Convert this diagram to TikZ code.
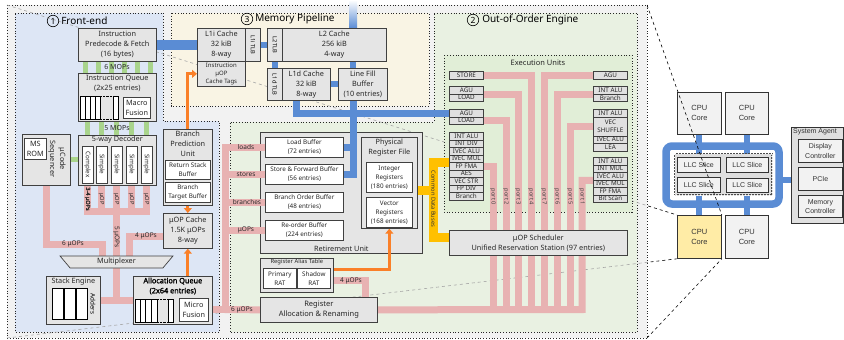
\documentclass[tikz,border=0pt]{standalone}
\usepackage{fontspec}
\setmainfont{Noto Sans}
\newfontfamily\arialfont{Liberation Sans}
\newfontfamily\headbold{Noto Sans}[FakeBold=1.8]
\usetikzlibrary{positioning,arrows.meta,shapes.geometric}

% colours
\definecolor{outerbg}{RGB}{242,242,242}
\definecolor{frontbg}{RGB}{221,230,245}
\definecolor{membg}{RGB}{249,244,228}
\definecolor{ooobg}{RGB}{233,241,226}
\definecolor{execbg}{RGB}{225,238,215}
\definecolor{uoppink}{RGB}{232,178,178}
\definecolor{mopgreen}{RGB}{169,212,140}
\definecolor{memblue}{RGB}{90,140,212}
\definecolor{ctlorange}{RGB}{250,128,40}
\definecolor{cdbyellow}{RGB}{255,192,0}
\definecolor{coreyellow}{RGB}{255,236,166}

\pgfdeclarelayer{regions}
\pgfdeclarelayer{groups}
\pgfdeclarelayer{wires}
\pgfsetlayers{regions,groups,wires,main}

\tikzset{
  nw/.style={anchor=north west},
  wh/.style 2 args={minimum width=#1, minimum height=#2},
  box/.style={draw=black!75, fill=black!10, line width=0.7pt, align=center,
    inner sep=0.5pt, text=black!85, font=\fontsize{7.3}{10}\selectfont},
  wbox/.style={box, fill=white},
  small/.style={font=\fontsize{6.3}{9}\selectfont},
  tiny/.style={font=\fontsize{5.7}{6}\selectfont},
  head/.style={align=center, inner sep=1pt, text=black!85, font=\fontsize{7.3}{10}\selectfont},
  unit/.style={box, line width=0.8pt, fill=black!12, inner sep=0pt, wh={34}{7.5},
    font=\fontsize{6.3}{6}\selectfont},
  rot/.style={rotate=-90},
  region/.style={draw=black!85, dotted, line width=0.8pt},
  lbl/.style={inner sep=0.5pt, font=\fontsize{6.5}{7}\selectfont, text=black!85},
  rtitle/.style={inner sep=1pt, font=\fontsize{10}{12}\selectfont},
  circnum/.style={circle, draw, line width=0.6pt, inner sep=0pt, minimum size=11.5,
    font=\fontsize{8.5}{8.5}\selectfont},
  uop/.style={draw=uoppink, line width=7pt, line cap=rect},
  mop/.style={draw=mopgreen, line width=5pt},
  mem/.style={draw=memblue, line width=7pt, line cap=rect},
  ctl/.style={draw=ctlorange, line width=3pt, -{Triangle[length=5pt, width=8pt]}},
  cdb/.style={draw=cdbyellow, line width=9pt, line cap=rect},
  cpu/.style={draw=black!80, fill=black!5, line width=0.8pt, align=center,
    font=\arialfont\fontsize{7.5}{10}\selectfont, text=black!80},
  zoomline/.style={dashed, line width=0.6pt},
}

\begin{document}
\begin{tikzpicture}[x=1pt, y=-1pt]
\useasboundingbox (0,0) rectangle (844,340);
\coordinate (otl) at (7,5);
\coordinate (otr) at (647,5);
\coordinate (obl) at (7,338);
\coordinate (obr) at (647,338);

% front-end
\node[box, nw, wh={78}{33}] (fetch) at (78,28) {Instruction\\Predecode \& Fetch\\(16 bytes)};
\node[box, nw, wh={78}{48}] (iq) at (78,73) {};
\node[head, below=0.5pt of iq.north] {Instruction Queue\\(2x25 entries)};
\draw[fill=white, line width=0.7pt] (80,96) rectangle (100,119);
\foreach \x in {85,90,95} \draw[line width=0.7pt] (\x,96) -- (\x,119);
\draw[densely dotted] (100,96) -- (113,96) (100,119) -- (113,119);
\draw[fill=white, line width=0.7pt] (113,96) rectangle (118,119);
\node[wbox, nw, wh={27}{21}] (macro) at (123,97) {Macro\\Fusion};

\node[box, nw, wh={78}{50}] (dec) at (78,135) {};
\node[head, below=0pt of dec.north] {5-way Decoder};
\node[wbox, rot, wh={37}{11}, small] (dc0) at (87.5,164.5) {Complex};
\foreach \i/\x in {1/101.5,2/116.5,3/131.5,4/146.5}
  \node[wbox, rot, wh={37}{11}, small] (dc\i) at (\x,164.5) {Simple};
\node[box, nw, wh={48}{51}] (seq) at (22,134) {};
\node[wbox, nw, wh={22}{21}] (msrom) at (24,138) {MS\\ROM};
\node[head, rot] at (57,159) {μCode\\Sequencer};

\node[box, nw, wh={49}{76}] (bpu) at (163,129) {};
\node[head, below=0.5pt of bpu.north] {Branch\\Prediction\\Unit};
\node[wbox, nw, wh={45}{19}, small] (rsb) at (165,160) {Return Stack\\Buffer};
\node[wbox, nw, wh={45}{20}, small] (btb) at (165,182) {Branch\\Target Buffer};
\node[box, nw, wh={49}{35}] (uopc) at (163,213) {μOP Cache\\1.5K μOPs\\8-way};

\node[box, trapezium, trapezium angle=60, shape border rotate=180, trapezium stretches=true,
  wh={113}{12}, inner sep=0pt] (mux) at (116.5,262) {Multiplexer};

\node[box, nw, wh={54}{48}] (stk) at (46,276) {};
\node[head, below=0.5pt of stk.north] {Stack Engine};
\foreach \x in {52,64,76} \draw[fill=white, line width=0.7pt] (\x,288) rectangle ++(11,31);
\node[rot, small] at (93,304) {Adders};

\node[box, nw, wh={79}{48}] (aq) at (133,276) {};
\node[head, below=0.5pt of aq.north, text=black, font=\headbold\fontsize{7.3}{10}\selectfont] {Allocation Queue\\(2x64 entries)};
\draw[fill=white, line width=0.7pt] (135,299) rectangle (157,322);
\foreach \x in {140,145.5,151} \draw[line width=0.7pt] (\x,299) -- (\x,322);
\draw[densely dotted] (157,299) -- (168,299) (157,322) -- (168,322);
\draw[fill=white, line width=0.7pt] (168,299) rectangle (173,322);
\node[wbox, nw, wh={29}{23}] (mfus) at (179,298) {Micro\\Fusion};

% memory pipeline
\node[box, nw, wh={48}{33}] (l1i) at (197,28) {L1i Cache\\32 kiB\\8-way};
\node[box, nw, wh={15}{33}] (itlb) at (245,28) {};
\node[rot, tiny] at (itlb) {L1i TLB};
\node[box, nw, wh={48}{25}, font=\fontsize{6}{8}\selectfont] (tags) at (197,61) {Instruction\\μOP\\Cache Tags};
\node[box, nw, wh={15}{33}] (l2tlb) at (267,28) {};
\node[rot, tiny] at (l2tlb) {L2 TLB};
\node[box, nw, wh={104}{33}] (l2) at (282,28) {L2 Cache\\256 kiB\\4-way};
\node[box, nw, wh={15}{32}] (dtlb) at (267,68) {};
\node[rot, tiny] at (dtlb) {L1d TLB};
\node[box, nw, wh={48}{32}] (l1d) at (282,68) {L1d Cache\\32 kiB\\8-way};
\node[box, nw, wh={49}{32}] (lfb) at (338,68) {Line Fill\\Buffer\\(10 entries)};

% out-of-order engine
\node[font=\fontsize{7.5}{9}\selectfont, text=black!85] at (538,63) {Execution Units};
\node[unit, nw] (p4u0) at (449,71) {STORE};
\foreach \y/\p in {86/3,109/2} {
  \node[unit, nw] (p\p u0) at (449,\y) {AGU};
  \node[unit, nw] (p\p u1) at (449,\y+7.5) {LOAD};
}
\foreach \nm [count=\i from 0] in {INT ALU,INT DIV,IVEC ALU,IVEC MUL,FP FMA,AES,VEC STR,FP DIV,Branch}
  \node[unit, nw] (p0u\i) at (449,132+7.5*\i) {\nm};
\node[unit, nw] (p7u0) at (593,71) {AGU};
\node[unit, nw] (p6u0) at (593,86) {INT ALU};
\node[unit, nw] (p6u1) at (593,93.5) {Branch};
\node[unit, nw] (p5u0) at (593,109) {INT ALU};
\node[unit, nw, minimum height=19, font=\fontsize{6.3}{8}\selectfont] (p5u1) at (593,116.5) {VEC\\SHUFFLE};
\node[unit, nw] (p5u2) at (593,135.5) {IVEC ALU};
\node[unit, nw] (p5u3) at (593,143) {LEA};
\foreach \nm [count=\i from 0] in {INT ALU,INT MUL,IVEC ALU,IVEC MUL,FP FMA,Bit Scan}
  \node[unit, nw] (p1u\i) at (593,157+7.5*\i) {\nm};
\node[box, nw, wh={178}{25}] (sched) at (449,230) {μOP Scheduler\\Unified Reservation Station (97 entries)};

\begin{pgfonlayer}{groups}
\node[box, nw, wh={162}{121}] (ret) at (260,132) {};
\end{pgfonlayer}
\node[head, above=1pt of ret.south] {Retirement Unit};
\node[wbox, nw, wh={78}{20}, small] (ldbuf) at (265,137) {Load Buffer\\(72 entries)};
\node[wbox, nw, wh={78}{20}, small] (stbuf) at (265,164) {Store \& Forward Buffer\\(56 entries)};
\node[wbox, nw, wh={78}{20}, small] (bobuf) at (265,192) {Branch Order Buffer\\(48 entries)};
\node[wbox, nw, wh={78}{20}, small] (robuf) at (265,220) {Re-order Buffer\\(224 entries)};
\node[box, nw, wh={56}{91}] (prf) at (361,137) {};
\node[head, below=1pt of prf.north] {Physical\\Register File};
\node[wbox, nw, wh={46}{30}, small] (intreg) at (366,162) {Integer\\Registers\\(180 entries)};
\node[wbox, nw, wh={46}{30}, small] (vecreg) at (366,197) {Vector\\Registers\\(168 entries)};

\node[box, nw, wh={73}{34}] (rat) at (260,258) {};
\node[head, below=0pt of rat.north, font=\fontsize{5.8}{7}\selectfont] {Register Alias Table};
\node[wbox, nw, wh={33}{20}, small] (prat) at (263,268) {Primary\\RAT};
\node[wbox, nw, wh={33}{20}, small] (srat) at (297,268) {Shadow\\RAT};
\node[box, nw, wh={117}{25}, font=\fontsize{7.5}{10}\selectfont] (ren) at (260,297) {Register\\Allocation \& Renaming};

% processor
\node[cpu, nw, wh={44}{42}] (core1) at (677,92) {CPU\\Core};
\node[cpu, nw, wh={43}{42}] (core2) at (725,92) {CPU\\Core};
\node[cpu, nw, wh={44}{43}, fill=coreyellow] (core3) at (677,215) {CPU\\Core};
\node[cpu, nw, wh={43}{43}] (core4) at (725,215) {CPU\\Core};
\node[nw, wh={97}{41}, fill=black!13, draw=black!70, densely dotted, double=black!13,
  double distance=1.2pt, line width=0.5pt] (llc) at (675,154) {};
\node[cpu, nw, wh={43}{15}, font=\arialfont\fontsize{7}{8}\selectfont] (llc1) at (677,157) {LLC Slice};
\node[cpu, nw, wh={42}{15}, font=\arialfont\fontsize{7}{8}\selectfont] (llc2) at (726,157) {LLC Slice};
\node[cpu, nw, wh={43}{15}, font=\arialfont\fontsize{7}{8}\selectfont] (llc3) at (677,177) {LLC Slice};
\node[cpu, nw, wh={42}{14}, font=\arialfont\fontsize{7}{8}\selectfont] (llc4) at (726,178) {LLC Slice};
\node[cpu, nw, wh={52}{96}, fill=black!12] (sa) at (791,127) {};
\node[below right=1pt and 2pt of sa.north west, inner sep=0pt, text=black!80,
  font=\arialfont\fontsize{7}{8}\selectfont] {System Agent};
\node[cpu, nw, wh={44}{23}, font=\arialfont\fontsize{7}{9.5}\selectfont] (disp) at (798,139) {Display\\Controller};
\node[cpu, nw, wh={44}{23}, font=\arialfont\fontsize{7}{9.5}\selectfont] (pcie) at (798,167) {PCIe};
\node[cpu, nw, wh={44}{22}, font=\arialfont\fontsize{7}{9.5}\selectfont] (memc) at (798,195) {Memory\\Controller};

% backgrounds
\begin{pgfonlayer}{regions}
\draw[region, fill=outerbg] (otl) rectangle (obr);
\draw[region, fill=frontbg] (15,13) -- (163,13) -- (163,121) -- (219,121) -- (219,332) -- (15,332) -- cycle;
\draw[region, fill=membg] (171,13) rectangle (429,106);
\draw[region, fill=ooobg] (434,13) -- (637,13) -- (637,332) -- (230,332) -- (230,122) -- (434,122) -- cycle;
\begin{scope}
  \clip (0,0) rectangle (647,340);
  \draw[zoomline, black!35] (otl) -- (core3.north west) (obl) -- (core3.south west);
\end{scope}
\draw[region, fill=execbg] (444,55) rectangle (632,212);
\end{pgfonlayer}

\node[circnum] (n1) at (53,21) {1};
\node[rtitle, right=1pt of n1] {Front-end};
\node[circnum] (n3) at (247,19) {3};
\node[rtitle, right=1pt of n3] {Memory Pipeline};
\node[circnum] (n2) at (473,20) {2};
\node[rtitle, right=2pt of n2] {Out-of-Order Engine};

% connections
\begin{pgfonlayer}{wires}
\foreach \x in {85,98,111,124,137,150}
  \draw[mop] (fetch.south -| \x,0) -- (iq.north -| \x,0);
\foreach \i in {0,...,4}
  \draw[mop] (dc\i |- iq.south) -- (dc\i |- dec.north);
\draw[mop] (seq.east) -- (seq.east -| dec.west);
\coordinate (decbus) at (116.5,211);
\foreach \i in {0,...,4}
  \draw[uop] (dc\i) -- (dc\i |- decbus);
\draw[uop] (dc0 |- decbus) -- (dc4 |- decbus);
\draw[uop] (decbus) -- (decbus |- mux.north);
\coordinate (in6) at (102,244);
\draw[uop] (seq.south) |- (in6) -- (in6 |- mux.north);
\coordinate (in4) at (129,236.5);
\draw[uop] (uopc.west |- in4) -- (in4) -- (in4 |- mux.north);
\draw[uop] (mux.south) |- (aq.west);
\draw[uop] (stk.east) -- (aq.west);
\draw[ctl] (bpu.north) |- (tags.west);
\draw[ctl] (bpu.south) -- (uopc.north);
\draw[ctl] (aq.north -| uopc.south) -- (uopc.south);

\coordinate (lfbbus) at (353,0);
\coordinate (l1dbus) at (296,0);
\draw[mem, line width=10pt] (fetch.east) -- (l1i.west);
\draw[mem, line width=6pt] (itlb.east) -- (l2tlb.west);
\draw[mem, line width=6pt] (l2tlb.south) -- (dtlb.north);
\draw[mem, line width=6pt] (l1d.east) -- (lfb.west);
\draw[mem, line width=6pt] (lfbbus |- l2.south) -- (lfbbus |- lfb.north);
\shade[top color=white, bottom color=memblue] (349,0) rectangle (357,28);
\draw[mem] (l1dbus |- l1d.south) |- (p2u0.west);
\draw[mem] (lfbbus |- lfb.south) |- (stbuf.east);
\draw[mem] (lfbbus |- ldbuf.east) -- (ldbuf.east);

\coordinate (rbus) at (225,309.5);
\draw[uop] (ldbuf.west) -| (rbus) -- (rbus -| aq.east);
\draw[uop] (rbus) -- (ren.west);
\foreach \buf in {stbuf,bobuf,robuf}
  \draw[uop] (\buf.west) -- (\buf.west -| rbus);
\coordinate (ren4) at (365,280);
\draw[uop] (rat.east |- ren4) -| (ren4 |- ren.north);
\draw[ctl] ([yshift=6pt]rat.east) -| (prf.south);

\foreach \p/\x in {0/493,2/506,3/518,4/531,7/544,6/557,5/570,1/582}
  \coordinate (port\p) at (\x,309.5);
\draw[uop] (p4u0.east) -| (port4);
\draw[uop] (p3u0.south east) -| (port3);
\draw[uop] (p2u1.east) -| (port2);
\draw[uop] (p0u4.east) -| (port0);
\draw[uop] (p7u0.west) -| (port7);
\draw[uop] (p6u0.south west) -| (port6);
\draw[uop] (p5u1.west) -| (port5);
\draw[uop] (p1u2.south west) -| (port1) -- (ren.east);

\coordinate (cdbbot) at (433.5,237.5);
\coordinate (cdbmid) at (433.5,190);
\draw[cdb] (p0u4.north west) -| (cdbbot) -- (cdbbot -| sched.west);
\draw[cdb] (prf.east |- cdbmid) -- (cdbmid);

\draw[memblue, line width=7.5pt, rounded corners=6pt] (666,146) rectangle (779,204);
\foreach \cc in {core1,core2}
  \draw[memblue, line width=6pt] (\cc.south) -- (\cc.south |- llc.north);
\foreach \cc in {core3,core4}
  \draw[memblue, line width=6pt] (\cc.north) -- (\cc.north |- llc.south);
\coordinate (ringr) at (779,180);
\draw[memblue, line width=6pt] (ringr) -- (ringr -| sa.west);
\end{pgfonlayer}

% labels on the buses
\node[lbl, font=\fontsize{7}{8}\selectfont] at (117,67) {6 MOPs};
\node[lbl, font=\fontsize{7}{8}\selectfont] at (117,128) {5 MOPs};
\node[lbl, rot, font=\headbold\fontsize{5.5}{6}\selectfont] at (dc0 |- 0,199) {3-4 μOPs};
\foreach \i in {1,...,4} \node[lbl, rot, tiny] at (dc\i |- 0,199) {μOP};
\node[lbl, rot] at (116.5,237) {5 μOPs};
\node[lbl] at (73,244) {6 μOPs};
\node[lbl] at (146,236) {4 μOPs};
\node[lbl] at (ldbuf.west -| 246,0) {loads};
\node[lbl] at (stbuf.west -| 246,0) {stores};
\node[lbl] at (bobuf.west -| 247,0) {branches};
\node[lbl] at (robuf.west -| 246,0) {μOPs};
\node[lbl] at (rbus -| 242,0) {6 μOPs};
\node[lbl] at (351,281) {4 μOPs};
\node[rot, tiny, text=black!80] at (433.5,199) {Common Data Buses};
\foreach \p in {0,2,3,4,7,6,5,1}
  \node[rot, tiny, text=black!75] at (port\p |- 0,197) {port \p};

\begin{scope}
  \clip (647,0) rectangle (844,340);
  \draw[zoomline] (otl) -- (core3.north west) (obl) -- (core3.south west)
    (otr) -- (core3.north east) (obr) -- (core3.south east);
\end{scope}
\end{tikzpicture}
\end{document}
